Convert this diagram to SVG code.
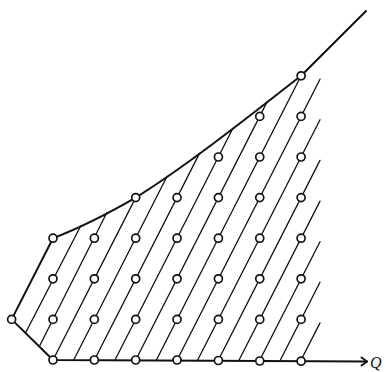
<svg xmlns="http://www.w3.org/2000/svg" width="387" height="372" viewBox="0 0 387 372">
<style>
.bd{fill:none;stroke:#111;stroke-width:2;stroke-linecap:round;stroke-linejoin:round}
.h{stroke:#111;stroke-width:1.3;stroke-linecap:round}
.pt{fill:#fff;stroke:#111;stroke-width:1.7}
.lbl{font-family:"Liberation Serif",serif;font-style:italic;font-size:16px;fill:#111}
</style>
<rect width="387" height="372" fill="#fff"/>
<g id="hatching">
<line class="h" x1="301.1" y1="360" x2="320" y2="322.9"/>
<line class="h" x1="280.4" y1="360" x2="320" y2="282.3"/>
<line class="h" x1="259.8" y1="360" x2="320" y2="241.7"/>
<line class="h" x1="239.1" y1="360" x2="320" y2="201.1"/>
<line class="h" x1="218.4" y1="360" x2="320" y2="160.4"/>
<line class="h" x1="197.7" y1="360" x2="320" y2="119.8"/>
<line class="h" x1="177.1" y1="360" x2="320" y2="79.2"/>
<line class="h" x1="156.4" y1="360" x2="302.5" y2="73"/>
<line class="h" x1="135.7" y1="360" x2="267.2" y2="101.6"/>
<line class="h" x1="115.0" y1="360" x2="232.8" y2="128.5"/>
<line class="h" x1="94.4" y1="360" x2="199.5" y2="153.4"/>
<line class="h" x1="73.7" y1="360" x2="167.1" y2="176.3"/>
<line class="h" x1="53.0" y1="360" x2="135.7" y2="197.6"/>
<line class="h" x1="39.3" y1="346.5" x2="106.9" y2="212.5"/>
<line class="h" x1="25.5" y1="333" x2="80.7" y2="226"/>
</g>
<g id="boundary">
<path class="bd" d="M366,11 L301.1,75.8 C258,109 190,164 135.7,197.6 Q90,224 53,238.2 L11.65,319.4 L53,360 L367,361.5"/>
<path class="bd" d="M361.5,357.5 L367,361.5 L361.5,365.5" stroke-width="1.6"/>
</g>
<g id="points">
<circle class="pt" cx="11.65" cy="319.4" r="4"/>
<circle class="pt" cx="53" cy="238.2" r="4"/>
<circle class="pt" cx="53" cy="278.8" r="4"/>
<circle class="pt" cx="53" cy="319.4" r="4"/>
<circle class="pt" cx="53" cy="360" r="4"/>
<circle class="pt" cx="94.35" cy="238.2" r="4"/>
<circle class="pt" cx="94.35" cy="278.8" r="4"/>
<circle class="pt" cx="94.35" cy="319.4" r="4"/>
<circle class="pt" cx="94.35" cy="360" r="4"/>
<circle class="pt" cx="135.7" cy="197.6" r="4"/>
<circle class="pt" cx="135.7" cy="238.2" r="4"/>
<circle class="pt" cx="135.7" cy="278.8" r="4"/>
<circle class="pt" cx="135.7" cy="319.4" r="4"/>
<circle class="pt" cx="135.7" cy="360" r="4"/>
<circle class="pt" cx="177.05" cy="197.6" r="4"/>
<circle class="pt" cx="177.05" cy="238.2" r="4"/>
<circle class="pt" cx="177.05" cy="278.8" r="4"/>
<circle class="pt" cx="177.05" cy="319.4" r="4"/>
<circle class="pt" cx="177.05" cy="360" r="4"/>
<circle class="pt" cx="218.4" cy="157" r="4"/>
<circle class="pt" cx="218.4" cy="197.6" r="4"/>
<circle class="pt" cx="218.4" cy="238.2" r="4"/>
<circle class="pt" cx="218.4" cy="278.8" r="4"/>
<circle class="pt" cx="218.4" cy="319.4" r="4"/>
<circle class="pt" cx="218.4" cy="360.5" r="4"/>
<circle class="pt" cx="259.75" cy="116.4" r="4"/>
<circle class="pt" cx="259.75" cy="157" r="4"/>
<circle class="pt" cx="259.75" cy="197.6" r="4"/>
<circle class="pt" cx="259.75" cy="238.2" r="4"/>
<circle class="pt" cx="259.75" cy="278.8" r="4"/>
<circle class="pt" cx="259.75" cy="319.4" r="4"/>
<circle class="pt" cx="259.75" cy="361" r="4"/>
<circle class="pt" cx="301.1" cy="75.8" r="4"/>
<circle class="pt" cx="301.1" cy="116.4" r="4"/>
<circle class="pt" cx="301.1" cy="157" r="4"/>
<circle class="pt" cx="301.1" cy="197.6" r="4"/>
<circle class="pt" cx="301.1" cy="238.2" r="4"/>
<circle class="pt" cx="301.1" cy="278.8" r="4"/>
<circle class="pt" cx="301.1" cy="319.4" r="4"/>
<circle class="pt" cx="301.1" cy="361.2" r="4"/>
</g>
<g id="axis-label">
<text class="lbl" x="370" y="368">Q</text>
</g>
</svg>
